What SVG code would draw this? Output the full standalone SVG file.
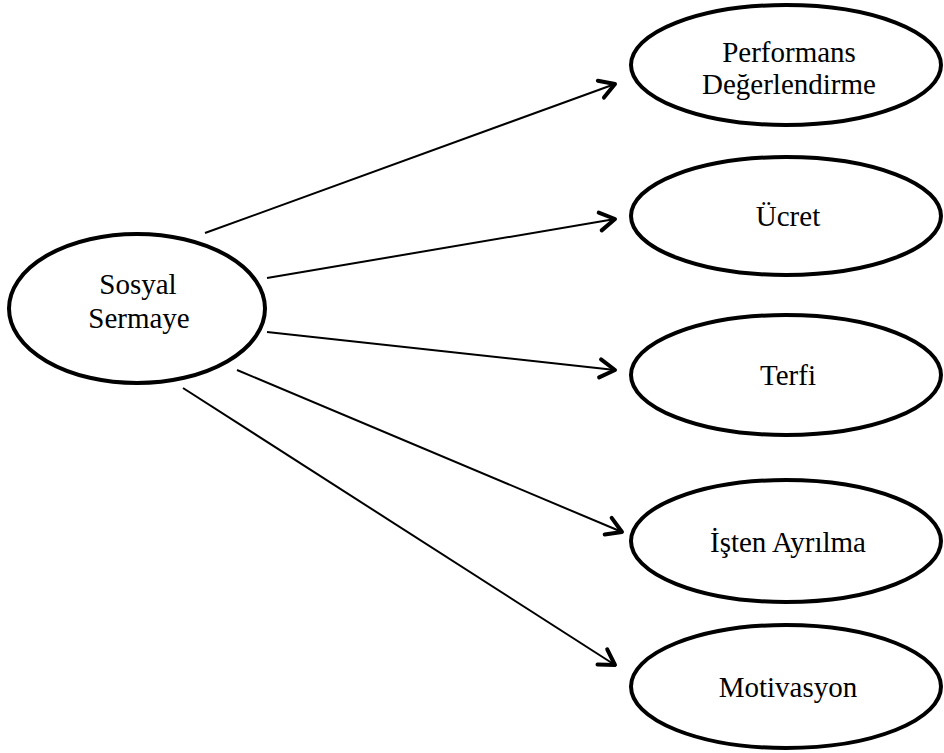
<svg xmlns="http://www.w3.org/2000/svg" width="944" height="753" viewBox="0 0 944 753">
<style>
.node ellipse{fill:#fff;stroke:#000;stroke-width:4}
.node text{font-family:"Liberation Serif","Times New Roman",serif;font-size:29px;fill:#000;text-anchor:middle}
.edges line{stroke:#000;stroke-width:2;marker-end:url(#arr)}
</style>
<defs>
<marker id="arr" markerUnits="userSpaceOnUse" markerWidth="30" markerHeight="30" viewBox="-20 -15 30 30" refX="0" refY="0" orient="auto">
<path d="M-15,-9 L0,0 L-15,9" fill="none" stroke="#000" stroke-width="4" stroke-linecap="round" stroke-linejoin="round"/>
</marker>
</defs>
<rect width="944" height="753" fill="#fff"/>
<g class="edges" id="connectors">
<line x1="205" y1="233" x2="615" y2="84"/>
<line x1="267" y1="278" x2="615" y2="219"/>
<line x1="267" y1="332" x2="615" y2="370"/>
<line x1="237" y1="370" x2="622" y2="532"/>
<line x1="183" y1="388" x2="615" y2="665"/>
</g>
<g class="node" id="sosyal-sermaye">
<ellipse cx="137" cy="308.5" rx="128" ry="74.5"/>
<text x="138" y="294">Sosyal</text>
<text x="139" y="328">Sermaye</text>
</g>
<g class="node" id="performans">
<ellipse cx="786" cy="65" rx="155" ry="60"/>
<text x="789" y="62">Performans</text>
<text x="789" y="94">Değerlendirme</text>
</g>
<g class="node" id="ucret">
<ellipse cx="786" cy="216" rx="155" ry="59"/>
<text x="788" y="226">Ücret</text>
</g>
<g class="node" id="terfi">
<ellipse cx="786" cy="375" rx="155" ry="60"/>
<text x="788" y="385">Terfi</text>
</g>
<g class="node" id="isten-ayrilma">
<ellipse cx="786" cy="541" rx="155" ry="61"/>
<text x="788" y="552">İşten Ayrılma</text>
</g>
<g class="node" id="motivasyon">
<ellipse cx="786" cy="686.5" rx="155" ry="61.5"/>
<text x="788" y="697">Motivasyon</text>
</g>
</svg>
